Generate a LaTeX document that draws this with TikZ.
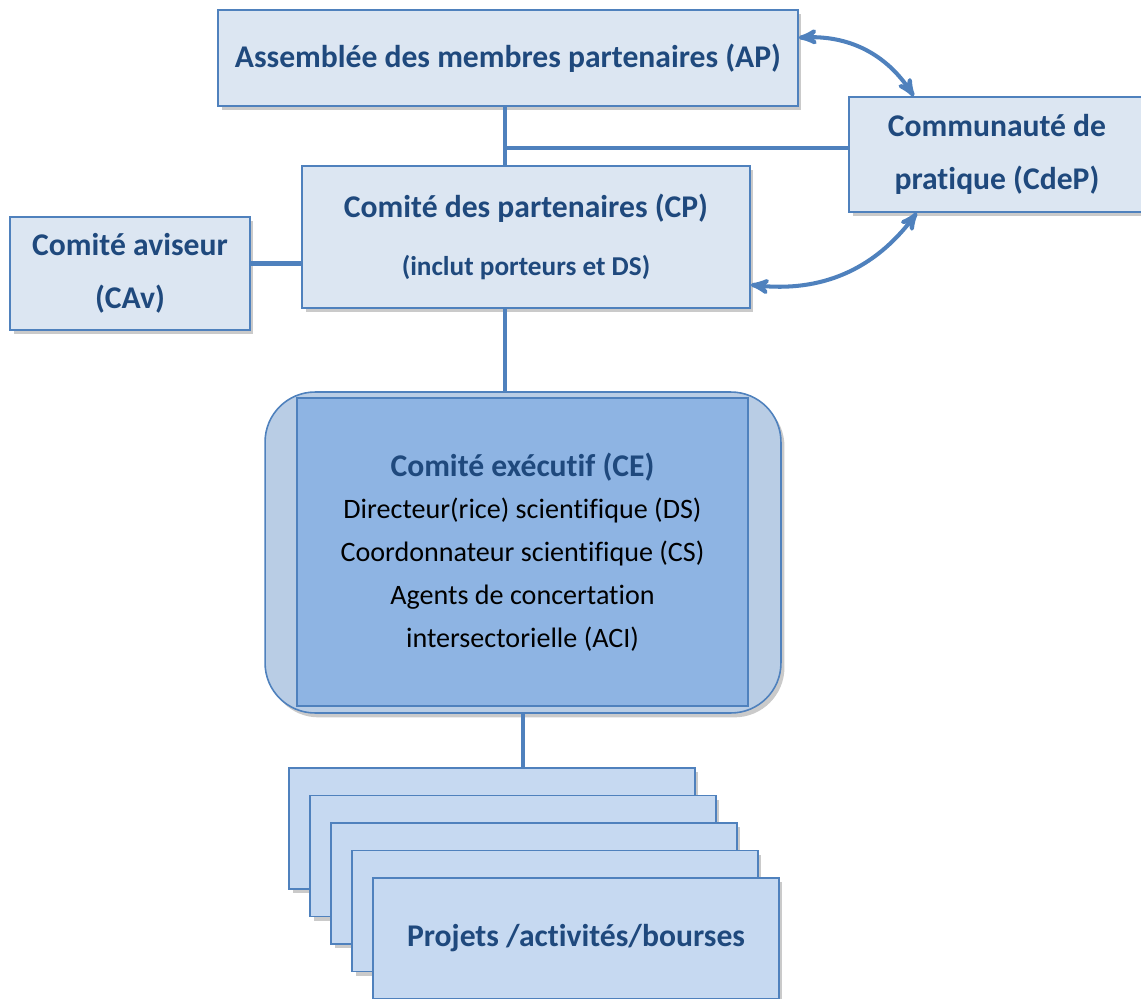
\documentclass[tikz,border=0pt]{standalone}
\usepackage{fontspec}
\setmainfont{Carlito}[Ligatures=NoCommon]
\usepackage{tikz}
\usetikzlibrary{arrows,shadows}

\definecolor{boxline}{HTML}{4F81BD}
\definecolor{boxfill}{HTML}{DCE6F2}
\definecolor{projfill}{HTML}{C6D9F1}
\definecolor{ceouter}{HTML}{B9CDE5}
\definecolor{ceinner}{HTML}{8EB4E3}
\definecolor{titleblue}{HTML}{1F497D}

\newcommand{\celine}[1]{{\mdseries\color{black}\fontsize{16}{24.4}\selectfont #1}}

\begin{document}
\begin{tikzpicture}[>=stealth', x=0.02cm, y=-0.02cm]
 \tikzstyle{box}=[draw=boxline, line width=0.9pt, fill=boxfill, text=titleblue, align=center, inner sep=0pt,
   font=\bfseries\fontsize{18}{30}\selectfont,
   drop shadow={shadow xshift=2pt, shadow yshift=-2.5pt, opacity=0.35, fill=black!60}]
 \tikzstyle{projet}=[box, fill=projfill, minimum width=8.12cm, minimum height=2.42cm]
 \tikzstyle{link}=[draw=boxline, line width=2.3pt]
 \clip (0,0) rectangle (1141,999);

 \node (AP) at (508,58) [box, minimum width=11.6cm, minimum height=1.92cm] {Assemblée des membres partenaires (AP)};
 \node (CdeP) at (997,154.5) [box, minimum width=5.92cm, minimum height=2.3cm] {Communauté de\\pratique (CdeP)};
 \node (CP) at (526,237) [box, minimum width=8.96cm, minimum height=2.84cm]
   {Comité des partenaires (CP)\\[3pt]{\fontsize{15.5}{20}\selectfont (inclut porteurs et DS)}};
 \node (CAv) at (130,273.5) [box, minimum width=4.8cm, minimum height=2.26cm] {Comité aviseur\\(CAv)};

 \node (CEouter) at (523,552.5) [box, fill=ceouter, rounded corners=1cm, minimum width=10.32cm, minimum height=6.42cm] {};
 \node (CE) at (522.5,552) [draw=boxline, line width=0.9pt, fill=ceinner, text=titleblue, align=center, inner sep=0pt,
   font=\bfseries\fontsize{18}{24.4}\selectfont, minimum width=9.02cm, minimum height=6.16cm]
   {Comité exécutif (CE)\\
    \celine{Directeur(rice) scientifique (DS)}\\
    \celine{Coordonnateur scientifique (CS)}\\
    \celine{Agents de concertation}\\
    \celine{intersectorielle (ACI)}};

 % pile des projets
 \node (P1) at (492,828.5) [projet] {};
 \node (P2) at (513,856) [projet] {};
 \node (P3) at (534,883.5) [projet] {};
 \node (P4) at (555,911) [projet] {};
 \node (P5) at (576,938.5) [projet] {Projets /activités/bourses};

 \draw [link] ([xshift=-0.06cm]AP.south) -- ([xshift=-0.06cm]AP.south |- CP.north);
 \draw [link] ([yshift=0.13cm]CdeP.west) -- ([yshift=0.13cm,xshift=-0.06cm]CdeP.west -| AP.south);
 \draw [link] ([yshift=0.2cm]CAv.east) -- ([yshift=0.2cm]CAv.east -| CP.west);
 \draw [link] ([xshift=-0.06cm]CP.south -| AP.south) -- ([xshift=-0.06cm]CEouter.north -| AP.south);
 \draw [link] (CEouter.south) -- (CEouter.south |- P1.north);

 \draw [link, <->] (AP.4) to[bend left=30] (CdeP.145);
 \draw [link, <->] (CP.-12) to[bend right=30] (CdeP.-144);

\end{tikzpicture}
\end{document}
